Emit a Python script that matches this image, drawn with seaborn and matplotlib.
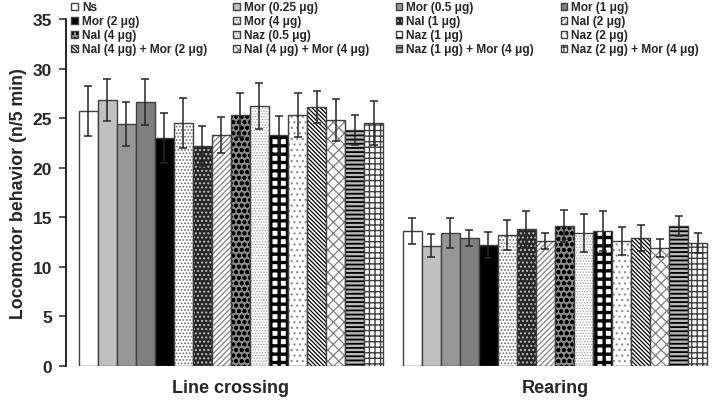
import pandas as pd
import numpy as np
import matplotlib
matplotlib.use("Agg")
import matplotlib.pyplot as plt
import matplotlib.colors as mcolors
import seaborn as sns

# ---------- data ----------
tests = ["Line crossing", "Rearing"]
treatments = [
    "Ns", "Mor (0.25 μg)", "Mor (0.5 μg)", "Mor (1 μg)",
    "Mor (2 μg)", "Mor (4 μg)", "Nal (1 μg)", "Nal (2 μg)",
    "Nal (4 μg)", "Naz (0.5 μg)", "Naz (1 μg)", "Naz (2 μg)",
    "Nal (4 μg) + Mor (2 μg)", "Nal (4 μg) + Mor (4 μg)",
    "Naz (1 μg) + Mor (4 μg)", "Naz (2 μg) + Mor (4 μg)",
]
line_mean = [25.7, 26.8, 24.4, 26.6, 23.0, 24.5, 22.2, 23.3,
             25.3, 26.2, 23.3, 25.3, 26.1, 24.8, 23.8, 24.5]
line_err = [2.5, 2.1, 2.2, 2.3, 2.5, 2.5, 2.0, 1.8,
            2.2, 2.3, 1.9, 2.2, 1.6, 2.1, 1.5, 2.2]
rear_mean = [13.6, 12.1, 13.4, 12.9, 12.2, 13.2, 13.8, 12.6,
             14.1, 13.4, 13.6, 12.6, 12.9, 11.9, 14.1, 12.4]
rear_err = [1.3, 1.15, 1.5, 0.8, 1.3, 1.5, 1.8, 0.8,
            1.6, 1.9, 2.0, 1.4, 1.3, 0.9, 1.0, 1.0]

# face colour, hatch, hatch colour for each treatment
faces = ["white", "#c0c0c0", "#969696", "#7f7f7f", "black", "white", "#262626", "white",
         "#8a8a8a", "white", "white", "white", "white", "white", "#b8b8b8", "white"]
hatches = [None, None, None, None, None, ".....", "....", "//////",
           "ooo", "......", "++", "...", "\\" * 8, "xxx", "----", "+++"]
hatch_cols = ["black", "black", "black", "black", "black", "#6a6a6a", "#bdbdbd", "#8a8a8a",
              "black", "#9a9a9a", "black", "#8a8a8a", "black", "#808080", "black", "#404040"]
hatch_lw = [1, 1, 1, 1, 1, 0.8, 1.0, 1.0, 1.2, 0.6, 2.4, 0.8, 0.9, 0.9, 1.3, 1.0]

df = pd.DataFrame({
    "test": [tests[0]] * len(treatments) + [tests[1]] * len(treatments),
    "treatment": treatments * 2,
    "value": line_mean + rear_mean,
})
err = {tests[0]: line_err, tests[1]: rear_err}

# ---------- style ----------
sns.set_style("white")
plt.rcParams["font.family"] = ["Liberation Sans", "DejaVu Sans"]
plt.rcParams["font.weight"] = "bold"
plt.rcParams["hatch.linewidth"] = 0.9

fig = plt.figure(figsize=(7.22, 4.02), dpi=100)
ax = fig.add_axes([66 / 722, 1 - 366.7 / 402, 650 / 722, 346.7 / 402])

sns.barplot(data=df, x="test", y="value", hue="treatment",
            order=tests, hue_order=treatments, palette=faces,
            saturation=1, width=0.94, gap=0, errorbar=None,
            edgecolor="#404040", linewidth=1.0, legend=False, ax=ax)

bar_conts = list(ax.containers)

# hatches + error bars
for i, cont in enumerate(bar_conts):
    for p in cont:
        if hatches[i]:
            p.set_hatch(hatches[i])
            p._hatch_color = mcolors.to_rgba(hatch_cols[i])
            if hasattr(p, "set_hatch_linewidth"):
                p.set_hatch_linewidth(hatch_lw[i])
            else:
                p._hatch_linewidth = hatch_lw[i]
    xs = [p.get_x() + p.get_width() / 2 for p in cont]
    ys = [p.get_height() for p in cont]
    es = [err[t][i] for t in tests]
    ax.errorbar(xs, ys, yerr=es, fmt="none", ecolor="#262626",
                elinewidth=1.1, capsize=3, capthick=1.1, zorder=5)

ax.set_xlim(-0.509, 1.497)
ax.set_ylim(0, 35)
ax.set_yticks(range(0, 36, 5))
ax.set_xlabel("")
ax.set_ylabel("Locomotor behavior (n/5 min)", fontsize=12.8, fontweight="bold", labelpad=4)
ax.tick_params(axis="y", direction="out", length=5, width=1.1, labelsize=12.5, pad=5, left=True)
ax.tick_params(axis="x", length=0, labelsize=13, pad=9.5)
for lab in ax.get_xticklabels() + ax.get_yticklabels():
    lab.set_fontweight("bold")
for s in ["top", "right", "bottom"]:
    ax.spines[s].set_visible(False)
ax.spines["left"].set_linewidth(1.2)
ax.spines["left"].set_color("black")

# legend, row-major order in 4 columns
handles = [c[0] for c in bar_conts]
order = [r * 4 + c for c in range(4) for r in range(4)]
leg = fig.legend([handles[k] for k in order], [treatments[k] for k in order],
                 ncol=4, loc="upper left", bbox_to_anchor=(64 / 722, 1.012),
                 frameon=False, fontsize=8.6, handlelength=0.55, handleheight=0.55,
                 handletextpad=0.35, labelspacing=0.17, columnspacing=2.2,
                 borderpad=0.1)
for t in leg.get_texts():
    t.set_fontweight("bold")

fig.savefig("out.png", dpi=100)
